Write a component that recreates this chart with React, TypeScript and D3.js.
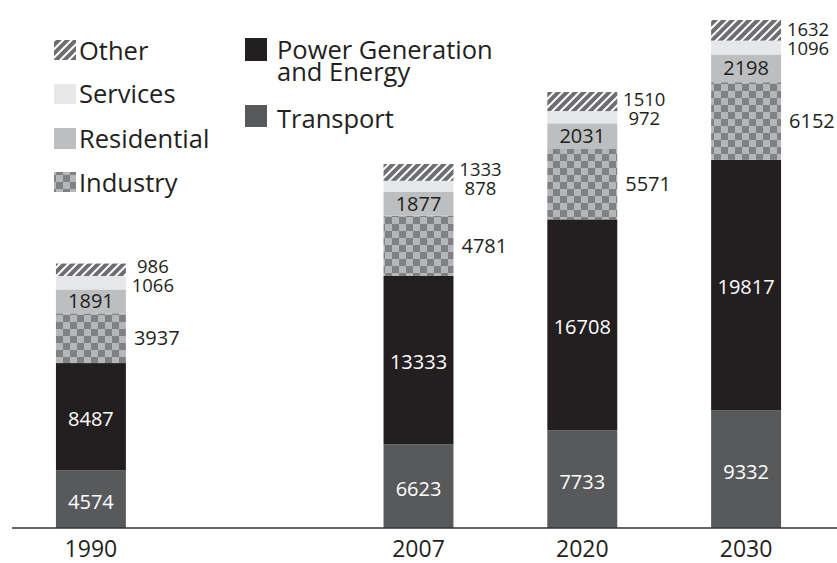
import React from "react";
import * as d3 from "d3";

const years = ["1990", "2007", "2020", "2030"];
const slots = ["1990", "gap", "2007", "2020", "2030"];
const transport = [4574, 6623, 7733, 9332];
const power = [8487, 13333, 16708, 19817];
const industry = [3937, 4781, 5571, 6152];
const residential = [1891, 1877, 2031, 2198];
const services = [1066, 878, 972, 1096];
const other = [986, 1333, 1510, 1632];

const seriesKeys = ["transport", "power", "industry", "residential", "services", "other"];
const seriesValues: Record<string, number[]> = { transport, power, industry, residential, services, other };
const fills: Record<string, string> = {
  transport: "#58595b",
  power: "#231f20",
  industry: "url(#checker)",
  residential: "#bcbec0",
  services: "#e6e7e8",
  other: "url(#hatch)",
};

const W = 837;
const H = 563;
const baseY = 528;
const FONT = "'Open Sans', sans-serif";
const INK = "#231f20";

export default function App() {
  const rows = years.map((y, i) => {
    const r: any = { year: y };
    seriesKeys.forEach((k) => (r[k] = seriesValues[k][i]));
    return r;
  });
  const stack = d3.stack().keys(seriesKeys)(rows as any);
  const totals = rows.map((r) => seriesKeys.reduce((s, k) => s + r[k], 0));
  const maxTotal = d3.max(totals) as number;

  const x = d3.scaleBand().domain(slots).range([9, 828]).paddingInner(0.573).paddingOuter(0.2866);
  const y = d3.scaleLinear().domain([0, maxTotal]).range([baseY, 20]);
  const bw = x.bandwidth();

  const layer = (k: string) => stack.find((s) => s.key === k)!;

  return (
    <svg width={W} height={H} style={{ position: "fixed", left: 0, top: 0, background: "#fff" }}>
      <defs>
        <pattern id="checker" patternUnits="userSpaceOnUse" width={14} height={14}>
          <rect width={14} height={14} fill="#b5b6b8" />
          <rect width={7} height={7} fill="#808184" />
          <rect x={7} y={7} width={7} height={7} fill="#808184" />
        </pattern>
        <pattern id="hatch" patternUnits="userSpaceOnUse" width={6} height={6} patternTransform="rotate(45)">
          <rect width={6} height={6} fill="#6d6e71" />
          <rect x={0} y={0} width={2} height={6} fill="#ffffff" />
        </pattern>
      </defs>

      {/* bars */}
      {stack.map((s) => (
        <g key={s.key}>
          {s.map((d, i) => (
            <rect
              key={i}
              x={x(years[i])}
              y={y(d[1])}
              width={bw}
              height={y(d[0]) - y(d[1])}
              fill={fills[s.key]}
            />
          ))}
        </g>
      ))}

      {/* inside labels */}
      {years.map((yr, i) => {
        const cx = (x(yr) as number) + bw / 2;
        const t = layer("transport")[i];
        const p = layer("power")[i];
        const r = layer("residential")[i];
        return (
          <g key={yr} fontFamily={FONT} fontSize={20} textAnchor="middle">
            <text x={cx} y={(y(t[0]) + y(t[1])) / 2 + 3} dy="0.35em" fill="#fff">{transport[i]}</text>
            <text x={cx} y={(y(p[0]) + y(p[1])) / 2 + 2} dy="0.35em" fill="#fff">{power[i]}</text>
            <text x={cx} y={(y(r[0]) + y(r[1])) / 2} dy="0.35em" fill={INK}>{residential[i]}</text>
          </g>
        );
      })}

      {/* outside labels */}
      {years.map((yr, i) => {
        const right = (x(yr) as number) + bw;
        const ind = layer("industry")[i];
        const o = layer("other")[i];
        const sv = layer("services")[i];
        let oy = (y(o[0]) + y(o[1])) / 2;
        let sy = (y(sv[0]) + y(sv[1])) / 2;
        const minSep = 19;
        if (sy - oy < minSep) {
          const m = (oy + sy) / 2;
          oy = m - minSep / 2;
          sy = m + minSep / 2;
        }
        return (
          <g key={yr} fontFamily={FONT} fill={INK}>
            <text x={right + 8} y={(y(ind[0]) + y(ind[1])) / 2} dy="0.35em" fontSize={20}>{industry[i]}</text>
            <text x={right + 27} y={oy} dy="0.35em" textAnchor="middle" fontSize={18.5}>{other[i]}</text>
            <text x={right + 27} y={sy} dy="0.35em" textAnchor="middle" fontSize={18.5}>{services[i]}</text>
          </g>
        );
      })}

      {/* axis */}
      <line x1={12} x2={837} y1={baseY} y2={baseY} stroke="#333" strokeWidth={1.5} />
      {years.map((yr) => (
        <text
          key={yr}
          x={(x(yr) as number) + bw / 2}
          y={557}
          textAnchor="middle"
          fontFamily={FONT}
          fontSize={23}
          fill={INK}
        >
          {yr}
        </text>
      ))}

      {/* legend left */}
      <g fontFamily={FONT} fontSize={25.5} fill={INK}>
        <rect x={54} y={40} width={22} height={20} fill="url(#hatch)" />
        <text x={79} y={60}>Other</text>
        <rect x={54} y={84} width={22} height={20} fill="#e6e7e8" />
        <text x={79} y={103}>Services</text>
        <rect x={54} y={128} width={22} height={21} fill="#bcbec0" />
        <text x={79} y={148}>Residential</text>
        <rect x={54} y={172} width={22} height={20} fill="url(#checker)" />
        <text x={79} y={192}>Industry</text>

        <rect x={245} y={38} width={22} height={23} fill="#231f20" />
        <text x={277} y={59}>Power Generation</text>
        <text x={277} y={81}>and Energy</text>
        <rect x={245} y={105} width={22} height={22} fill="#58595b" />
        <text x={277} y={128}>Transport</text>
      </g>
    </svg>
  );
}
